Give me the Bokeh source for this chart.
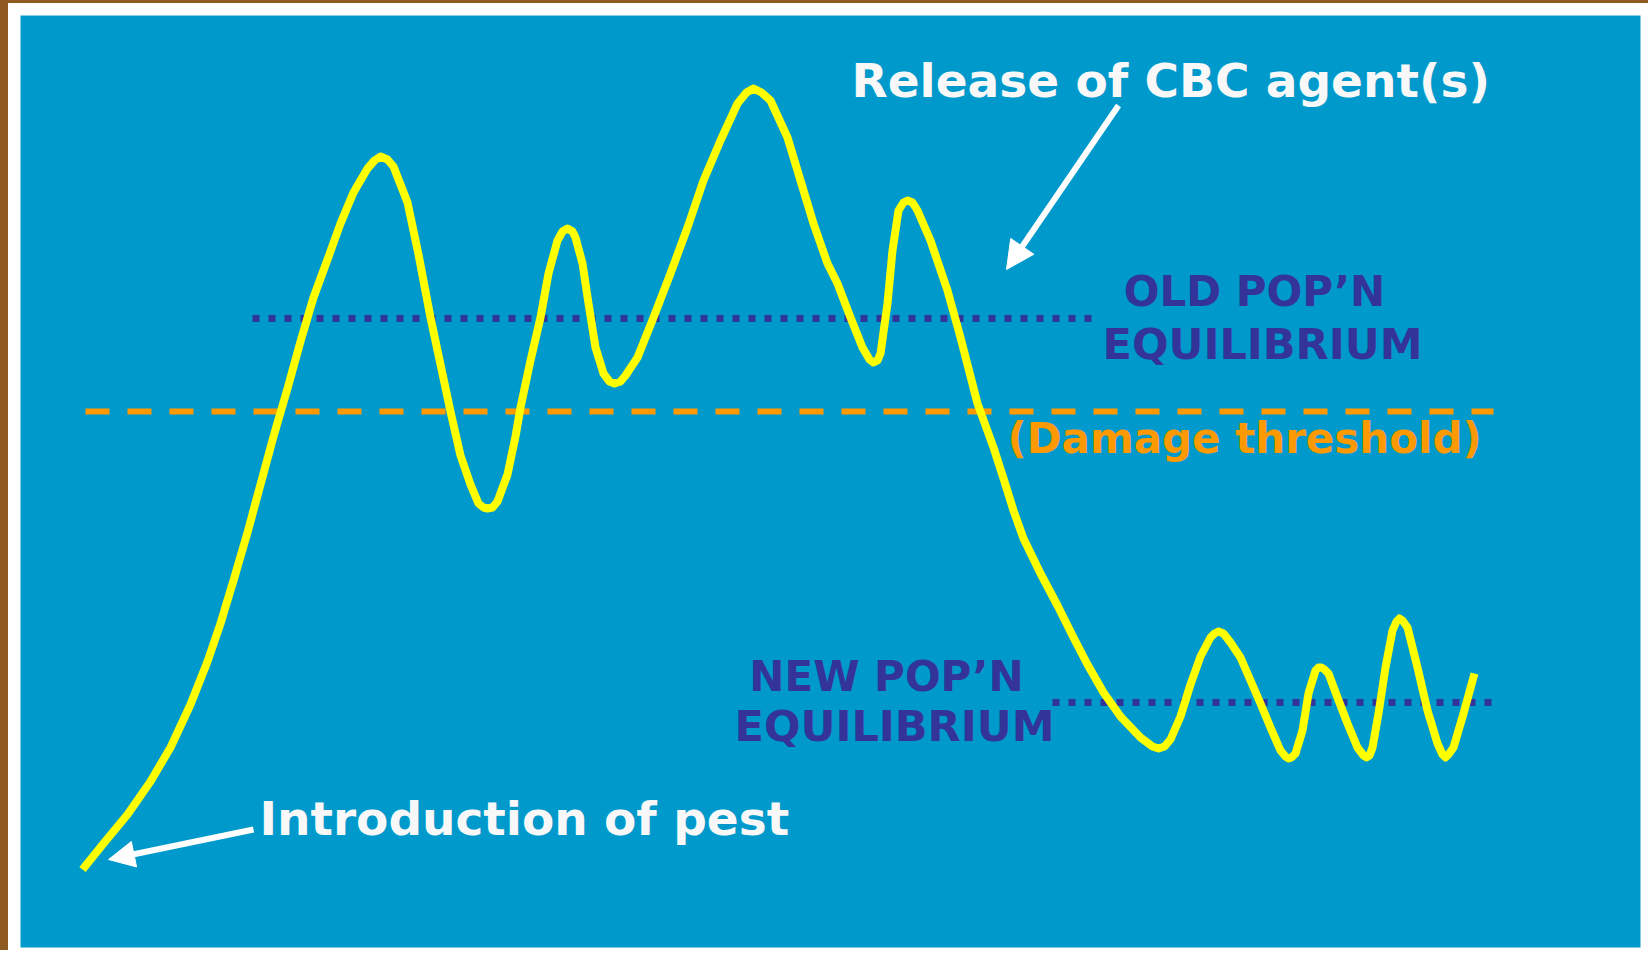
from bokeh.plotting import figure
from bokeh.models import Range1d, Arrow, NormalHead, Label
from bokeh.embed import file_html
from bokeh.resources import INLINE

# ---- data (time units vs. pest density) ----
time = [62, 83, 107, 130, 150, 170, 187, 200, 213, 227, 240, 253, 267, 280, 293, 307, 320, 333,
        347, 354, 360, 367, 373, 387, 398, 410, 420, 430, 440, 450, 458, 463, 467, 472, 477, 487,
        495, 500, 510, 520, 528, 537, 542, 547, 552, 555, 562, 568, 575, 583, 589, 594, 600, 605,
        617, 633, 650, 667, 683, 700, 717, 726, 733, 741, 750, 767, 780, 793, 807, 817, 830, 842,
        849, 853, 857, 860, 867, 872, 878, 883, 887, 892, 897, 910, 927, 940, 957, 973, 983, 993,
        1003, 1020, 1037, 1053, 1067, 1083, 1100, 1120, 1132, 1138, 1144, 1150, 1160, 1170,
        1180, 1190, 1194, 1198, 1203, 1210, 1220, 1230, 1240, 1250, 1260, 1265, 1268, 1271,
        1275, 1282, 1288, 1295, 1298, 1301, 1304, 1308, 1317, 1327, 1337, 1343, 1346, 1349,
        1352, 1358, 1365, 1372, 1376, 1379, 1382, 1387, 1397, 1407, 1417, 1422, 1425, 1428,
        1433, 1443, 1454]
density = [78, 104, 133, 166, 200, 243, 286, 324, 367, 415, 463, 511, 559, 606, 650, 688, 724, 755,
           779, 787, 791, 788, 781, 745, 693, 630, 583, 536, 492, 463, 444, 440, 439, 440, 446, 473,
           511, 540, 587, 630, 674, 707, 716, 719, 716, 710, 684, 644, 600, 574, 566, 564, 566, 572,
           590, 630, 674, 720, 767, 807, 844, 855, 859, 855, 847, 810, 767, 724, 684, 664, 630, 600,
           588, 585, 587, 594, 644, 697, 737, 745, 747, 745, 737, 707, 657, 610, 544, 500, 469, 437,
           409, 374, 342, 310, 283, 255, 231, 210, 201, 199, 201, 208, 231, 263,
           291, 310, 314, 316, 314, 305, 290, 267, 244, 220, 197, 191, 189, 190,
           194, 217, 254, 277, 280, 280, 278, 274, 250, 224, 200, 192, 190, 192,
           200, 234, 280, 317, 326, 329, 327, 320, 280, 237, 204, 193, 190, 193,
           200, 234, 274]

old_equilibrium = 629
new_equilibrium = 245
damage_threshold = 536

old_span = [232, 1072]
new_span = [1032, 1473]
damage_span = [65, 1473]

BLUE = "#0099CC"
YELLOW = "#FFFF00"
ORANGE = "#FF9900"
NAVY = "#333399"
WHITE = "#F8F8F8"
BROWN = "#8F5A22"
FONT = "DejaVu Sans"

p = figure(frame_width=1620, frame_height=932, output_backend="svg", toolbar_location=None,
           x_range=Range1d(0, 1620), y_range=Range1d(0, 932),
           x_axis_location=None, y_axis_location=None,
           min_border_left=12, min_border_right=8, min_border_top=12, min_border_bottom=3,
           background_fill_color=BLUE, border_fill_color="white")
p.grid.visible = False
p.outline_line_color = None
p.styles = {"border-left": f"8px solid {BROWN}", "border-top": f"3px solid {BROWN}"}

# reference lines
p.line(damage_span, [damage_threshold, damage_threshold], line_color=ORANGE, line_width=6,
       line_dash="24 18", line_cap="butt")
p.line(old_span, [old_equilibrium, old_equilibrium], line_color=NAVY, line_width=7,
       line_dash="7 9", line_cap="butt")
p.line(new_span, [new_equilibrium, new_equilibrium], line_color=NAVY, line_width=7,
       line_dash="7 9", line_cap="butt")

# population curve
p.line(time, density, line_color=YELLOW, line_width=8, line_join="round", line_cap="butt")

# arrows
p.add_layout(Arrow(x_start=233, y_start=118, x_end=88, y_end=88, line_color="white", line_width=6,
                   end=NormalHead(size=26, fill_color="white", line_color="white", line_width=1)))
p.add_layout(Arrow(x_start=1098, y_start=842, x_end=986, y_end=678, line_color="white", line_width=6,
                   end=NormalHead(size=28, fill_color="white", line_color="white", line_width=1)))

def lab(x, y, txt, color, size, align="left"):
    p.add_layout(Label(x=x, y=y, text=txt, text_color=color, text_font=FONT,
                       text_font_style="bold", text_font_size=f"{size}px",
                       text_align=align, text_baseline="alphabetic"))

lab(831, 867, "Release of CBC agent(s)", WHITE, 47)
lab(239, 129, "Introduction of pest", WHITE, 47)
lab(1234, 656, "OLD POP\u2019N", NAVY, 42, "center")
lab(1242, 604, "EQUILIBRIUM", NAVY, 43, "center")
lab(866, 271, "NEW POP\u2019N", NAVY, 42, "center")
lab(874, 222, "EQUILIBRIUM", NAVY, 43, "center")
lab(987, 509, "(Damage threshold)", ORANGE, 42)

open("out.html", "w").write(file_html(p, INLINE))
